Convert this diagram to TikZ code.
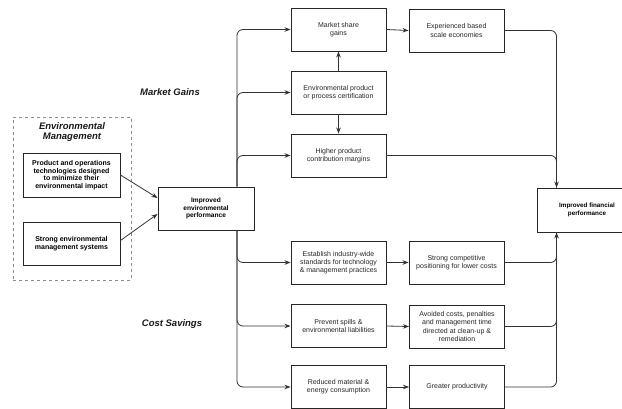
\documentclass[tikz,border=0pt]{standalone}
\usepackage{fontspec}
\setmainfont{Liberation Sans}
\usetikzlibrary{arrows.meta,calc}
\begin{document}
\begin{tikzpicture}[x=1pt,y=-1pt,
 box/.style={draw=black!85, line width=0.9pt, fill=white, minimum width=95pt, minimum height=43pt, inner sep=1pt, align=center, font=\fontsize{7}{8.3}\selectfont, text=black!85},
 bbox/.style={box, font=\bfseries\fontsize{7}{7.6}\selectfont, text=black},
 arr/.style={-{Stealth[length=6pt,width=4.5pt]}, line width=0.8pt, draw=black!80},
 conn/.style={line width=0.8pt, draw=black!80, rounded corners=6pt},
 lbl/.style={font=\bfseries\itshape\fontsize{9.5}{10.7}\selectfont, align=center, text=black!90}
]
\useasboundingbox (0,0) rectangle (622,409);

% left group
\node[draw=black!45, dashed, line width=0.5pt, minimum width=118pt, minimum height=163pt, inner sep=0pt] (em) at (72,198.5) {};
\node[lbl] (emt) at (72,132) {Environmental\\Management};
\node[bbox, minimum width=97pt, minimum height=44pt] (prod) at (71.5,175) {Product and operations\\technologies designed\\to minimize their\\environmental impact};
\node[bbox, minimum width=97pt] (sems) at (71.5,243.5) {Strong environmental\\management systems};

\node[bbox, minimum width=96pt, font=\bfseries\fontsize{6.6}{7.6}\selectfont] (perf) at (206,208.5) {Improved\\environmental\\performance};

% labels
\node[lbl] (mg) at (170,92) {Market Gains};
\node[lbl] (cs) at (172,324) {Cost Savings};

% middle column
\node[box] (msg) at (338.5,29.5) {Market share\\gains};
\node[box] (cert) at (338.5,92.5) {Environmental product\\or process certification};
\node[box] (hpc) at (338.5,155.5) {Higher product\\contribution margins};
\node[box] (est) at (338.5,262.5) {Establish industry-wide\\standards for technology\\\& management practices};
\node[box] (prev) at (338.5,326) {Prevent spills \&\\environmental liabilities};
\node[box] (red) at (338.5,387) {Reduced material \&\\energy consumption};

% right column
\node[box] (exp) at (456.5,30.5) {Experienced based\\scale economies};
\node[box] (scp) at (456.5,262.5) {Strong competitive\\positioning for lower costs};
\node[box] (avo) at (457,326.5) {Avoided costs, penalties\\and management time\\directed at clean-up \&\\remediation};
\node[box] (gp) at (457,387) {Greater productivity};

\node[bbox, minimum width=100pt, minimum height=44pt, font=\bfseries\fontsize{6.3}{7.4}\selectfont] (fin) at (587,210) {Improved financial\\performance};

% left arrows
\draw[arr] (prod.east) -- ($(perf.west)+(0,-10.5)$);
\draw[arr] ($(sems.east)+(0,-3)$) -- ($(perf.west)+(0,5.5)$);

% trunk branches
\coordinate (bus) at (237,0);
\draw[arr,conn] (bus |- perf.north) |- (msg.west);
\draw[arr,conn] (bus |- perf.north) |- (cert.west);
\draw[arr,conn] (bus |- perf.north) |- (hpc.west);
\draw[arr,conn] (bus |- perf.south) |- (est.west);
\draw[arr,conn] (bus |- perf.south) |- (prev.west);
\draw[arr,conn] (bus |- perf.south) |- (red.west);

% middle links
\draw[arr] (cert.north) -- (msg.south);
\draw[arr] (cert.south) -- (hpc.north);
\draw[arr] (msg.east) -- (exp.west);
\draw[arr] (est.east) -- (scp.west);
\draw[arr] (prev.east) -- (avo.west);
\draw[arr] (red.east) -- (gp.west);

% to financial
\coordinate (finT) at ($(fin.north west)+(20,0)$);
\coordinate (finB) at ($(fin.south west)+(20,0)$);
\draw[conn] (hpc.east) -| (finT);
\draw[arr,conn] (exp.east) -| (finT);
\draw[conn] (avo.east) -| (finB);
\draw[conn] (gp.east) -| (finB);
\draw[arr,conn] (scp.east) -| (finB);
\end{tikzpicture}
\end{document}
